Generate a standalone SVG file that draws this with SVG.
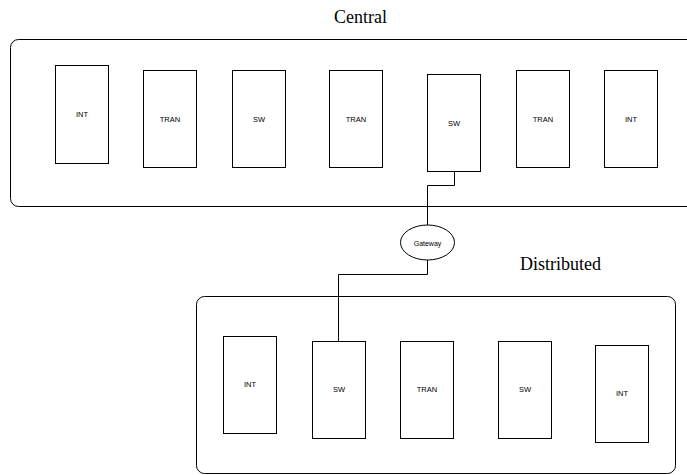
<svg xmlns="http://www.w3.org/2000/svg" width="687" height="475" viewBox="0 0 687 475">
<style>
.cont{fill:none;stroke:#000;stroke-width:1}
.box{fill:#fff;stroke:#000;stroke-width:1}
.lbl{font-family:"Liberation Sans",Arial,sans-serif;font-size:7.5px;fill:#000;text-anchor:middle;dominant-baseline:central}
.title{font-family:"Liberation Serif","Times New Roman",serif;font-size:18px;fill:#000}
.wire{fill:none;stroke:#000;stroke-width:1}
</style>
<rect width="687" height="475" fill="#fff"/>
<g id="central">
<rect class="cont" x="10.5" y="39.5" width="685" height="167" rx="8"/>
<text class="title" x="334" y="23">Central</text>
</g>
<g id="distributed">
<rect class="cont" x="196.5" y="296.5" width="479" height="177" rx="8"/>
<text class="title" x="520" y="270">Distributed</text>
</g>
<g id="connectors">
<polyline class="wire" points="454.5,172 454.5,185.5 427.5,185.5 427.5,225"/>
<polyline class="wire" points="427.5,260 427.5,274.5 338.5,274.5 338.5,341"/>
</g>
<g id="c-int1"><rect class="box" x="55.5" y="65.5" width="53" height="98"/><text class="lbl" x="82" y="114">INT</text></g>
<g id="c-tran1"><rect class="box" x="143.5" y="70.5" width="53" height="97"/><text class="lbl" x="170" y="119">TRAN</text></g>
<g id="c-sw1"><rect class="box" x="232.5" y="70.5" width="53" height="97"/><text class="lbl" x="259" y="119">SW</text></g>
<g id="c-tran2"><rect class="box" x="329.5" y="70.5" width="53" height="97"/><text class="lbl" x="356" y="119">TRAN</text></g>
<g id="c-sw2"><rect class="box" x="427.5" y="74.5" width="53" height="97"/><text class="lbl" x="454" y="123">SW</text></g>
<g id="c-tran3"><rect class="box" x="516.5" y="70.5" width="53" height="97"/><text class="lbl" x="543" y="119">TRAN</text></g>
<g id="c-int2"><rect class="box" x="604.5" y="70.5" width="53" height="97"/><text class="lbl" x="631" y="119">INT</text></g>
<g id="gateway"><ellipse class="box" cx="427.5" cy="242.5" rx="27" ry="17.5"/><text class="lbl" x="427.5" y="243" style="font-size:7px">Gateway</text></g>
<g id="d-int1"><rect class="box" x="223.5" y="336.5" width="53" height="97"/><text class="lbl" x="250" y="384">INT</text></g>
<g id="d-sw1"><rect class="box" x="312.5" y="341.5" width="53" height="97"/><text class="lbl" x="339" y="389">SW</text></g>
<g id="d-tran1"><rect class="box" x="400.5" y="341.5" width="53" height="97"/><text class="lbl" x="427" y="389">TRAN</text></g>
<g id="d-sw2"><rect class="box" x="498.5" y="341.5" width="53" height="97"/><text class="lbl" x="525" y="389">SW</text></g>
<g id="d-int2"><rect class="box" x="595.5" y="345.5" width="53" height="97"/><text class="lbl" x="622" y="393">INT</text></g>
</svg>
